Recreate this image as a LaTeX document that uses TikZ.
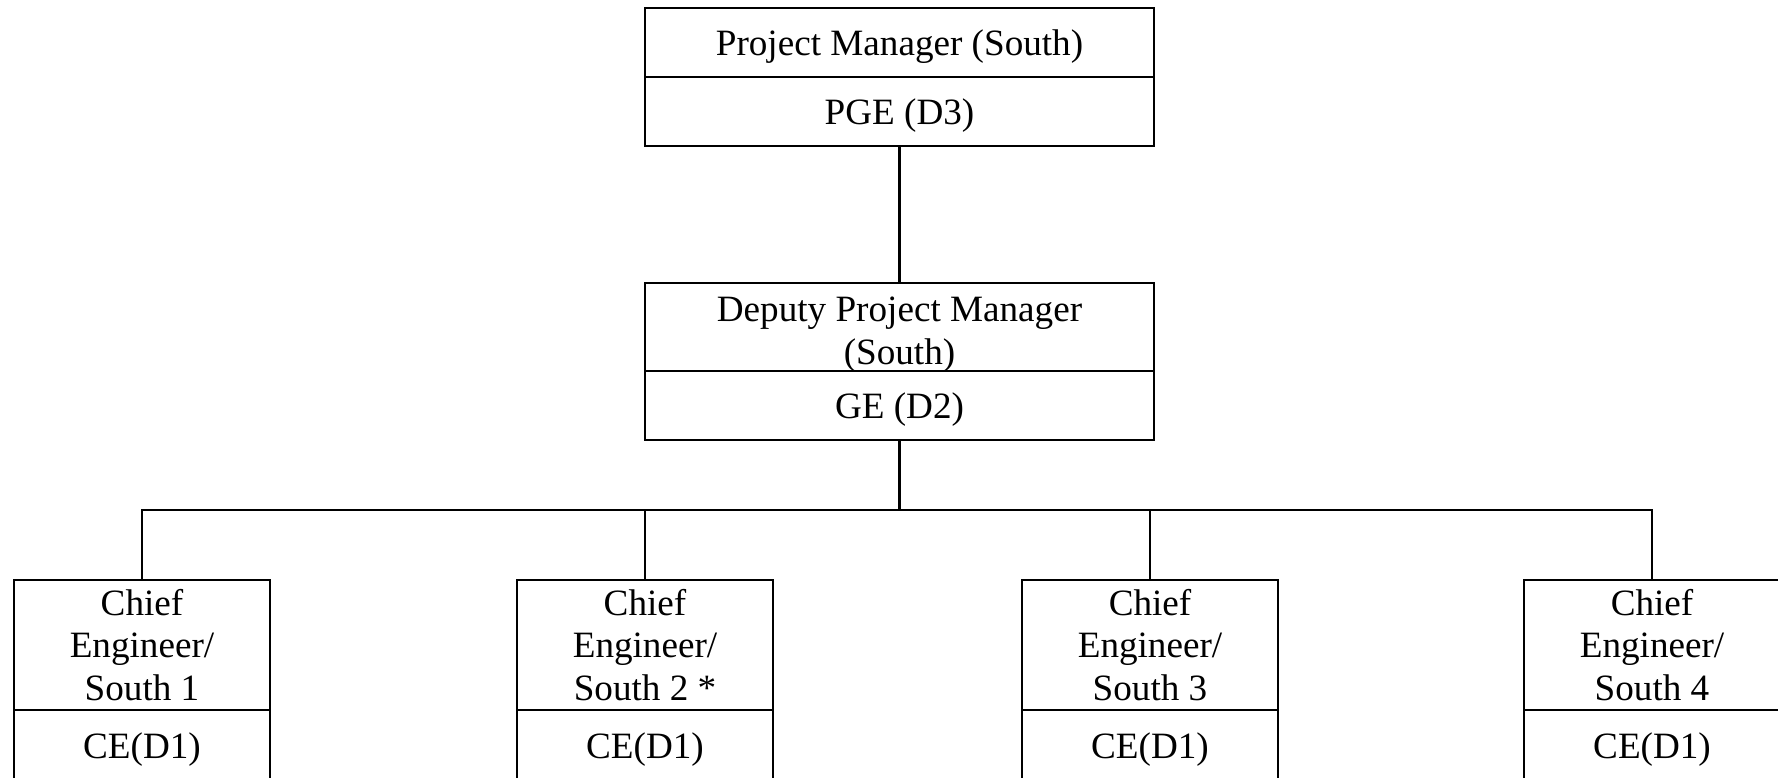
\documentclass[tikz,border=0pt]{standalone}
\usepackage{fontspec}
\setmainfont{Liberation Serif}
\usepackage{tikz}
\usetikzlibrary{positioning}

\tikzset{
  post/.style={draw, line width=0.7pt, inner sep=0pt, outer sep=0pt, align=center,
    font=\fontsize{12pt}{13.8pt}\selectfont},
  wide/.style={post, minimum width=164.4pt, minimum height=22.3pt},
  narrow/.style={post, minimum width=82.7pt, minimum height=22.3pt},
  oneline/.style={text height=11.2pt, text depth=2.6pt},
}

\begin{document}
\begin{tikzpicture}[x=0.323pt, y=-0.323pt, line width=0.7pt]
        \useasboundingbox (0,0) rectangle (1778,778);
        \clip (0,0) rectangle (1778,778);
        \node[wide, oneline] (pm1) at (899.5,42.5) {Project Manager (South)};
        \node[wide, oneline, below=0pt of pm1] (pm2) {PGE (D3)};
        \node[wide, minimum height=28.3pt] (dep1) at (899.5,327) {\rule{0pt}{10.3pt}Deputy Project Manager\\\smash{(South)}};
        \node[wide, oneline, below=0pt of dep1] (dep2) {GE (D2)};
        \coordinate (bus) at (899.5,510);
        \node[narrow, minimum height=42.2pt] (ce1) at (142,645) {Chief\\Engineer/\\South 1};
        \node[narrow, minimum height=42.2pt] (ce2) at (645,645) {Chief\\Engineer/\\South 2 *};
        \node[narrow, minimum height=42.2pt] (ce3) at (1150,645) {Chief\\Engineer/\\South 3};
        \node[narrow, minimum height=42.2pt] (ce4) at (1652,645) {Chief\\Engineer/\\South 4};
        \foreach \i in {1,...,4} {
            \node[narrow, oneline, below=0pt of ce\i] (grade\i) {CE(D1)};
            \draw (bus) -| (ce\i.north);
        }
        \draw (pm2.south) -- (dep1.north);
        \draw (dep2.south) -- (bus);
    \end{tikzpicture}
\end{document}
